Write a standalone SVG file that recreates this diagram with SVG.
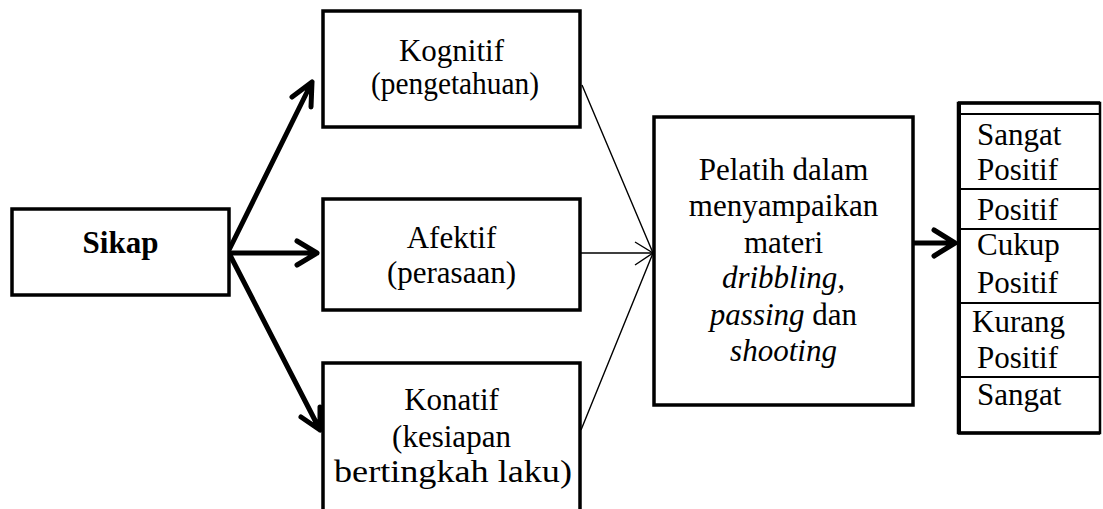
<svg xmlns="http://www.w3.org/2000/svg" width="1103" height="509" viewBox="0 0 1103 509">
<style>
.box{fill:#fff;stroke:#000;stroke-width:3.5}
.f{font-family:'Liberation Serif','Times New Roman',Times,serif;font-size:31px;fill:#000}
.c{text-anchor:middle}
.b{font-weight:bold}
.thick{fill:none;stroke:#000;stroke-width:5;stroke-linecap:round;stroke-linejoin:round}
.thin{fill:none;stroke:#000;stroke-width:1.4}
.row{stroke:#000;stroke-width:2}
</style>
<rect width="1103" height="509" fill="#fff"/>
<g id="connectors">
<path class="thin" d="M582 85 L653 253 M581 253 L653 253 M581 430 L653 253"/>
<path class="thin" d="M635 242 L653 253 L635 265"/>
<path class="thick" d="M229 250 L312 82 M292 97 L312 82 L311 107"/>
<path class="thick" d="M229 253 L317 253 M297 241 L317 253 L297 265"/>
<path class="thick" d="M230 255 L320 430 M301 417 L320 430 L320 407"/>
<path class="thick" d="M913 243 L955 243 M934 230 L955 243 L934 256"/>
</g>
<g class="f">
<g id="sikap">
<rect class="box" x="12" y="209" width="217" height="86"/>
<text class="c b" x="120.5" y="253">Sikap</text>
</g>
<g id="kognitif">
<rect class="box" x="323" y="11" width="257" height="116"/>
<text class="c" x="451.5" y="61">Kognitif</text>
<text class="c" x="455" y="94" textLength="168" lengthAdjust="spacingAndGlyphs">(pengetahuan)</text>
</g>
<g id="afektif">
<rect class="box" x="323" y="199" width="257" height="111"/>
<text class="c" x="451.5" y="248">Afektif</text>
<text class="c" x="451.5" y="283">(perasaan)</text>
</g>
<g id="konatif">
<rect class="box" x="323" y="363" width="257" height="160"/>
<text class="c" x="451.5" y="410">Konatif</text>
<text class="c" x="451.5" y="447">(kesiapan</text>
<text class="c" x="453" y="482" font-size="32" textLength="238" lengthAdjust="spacingAndGlyphs">bertingkah laku)</text>
</g>
<g id="pelatih">
<rect class="box" x="654" y="117" width="259" height="288"/>
<text class="c" x="783.5" y="180">Pelatih dalam</text>
<text class="c" x="783.5" y="216">menyampaikan</text>
<text class="c" x="783.5" y="253">materi</text>
<text class="c" x="783.5" y="288" font-style="italic">dribbling,</text>
<text class="c" x="783.5" y="325"><tspan font-style="italic">passing</tspan> dan</text>
<text class="c" x="783.5" y="361" font-style="italic">shooting</text>
</g>
<g id="kategori">
<rect x="958" y="103" width="142" height="330" fill="#fff" stroke="#000" stroke-width="2.5"/>
<path d="M958 103 H1100 M958 433 H1100" stroke="#000" stroke-width="3.5"/>
<path d="M959 103 V433" stroke="#000" stroke-width="4"/>
<path class="row" d="M958 114 H1100 M958 189 H1100 M958 229 H1100 M958 303 H1100 M958 377 H1100"/>
<text x="977" y="145">Sangat</text>
<text x="977" y="180">Positif</text>
<text x="977" y="220">Positif</text>
<text x="977" y="255">Cukup</text>
<text x="977" y="293">Positif</text>
<text x="972" y="332">Kurang</text>
<text x="977" y="368">Positif</text>
<text x="977" y="405">Sangat</text>
</g>
</g>
</svg>
